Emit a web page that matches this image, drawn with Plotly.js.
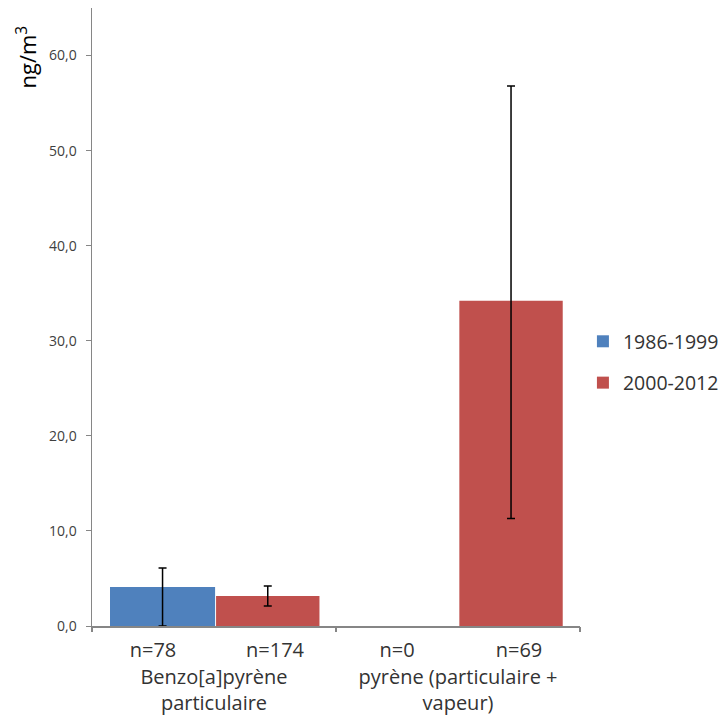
<!DOCTYPE html>
<html>
<head>
<meta charset="utf-8">
<script src="https://cdn.plot.ly/plotly-3.0.1.min.js"></script>
<style>html,body{margin:0;padding:0;background:#fff;}#chart{width:726px;height:720px;}</style>
</head>
<body>
<div id="chart"></div>
<script>
// Categories (two-level)
const groupLabels = ["Benzo[a]pyrène<br>particulaire", "Benzo[a]pyrène<br>particulaire", "pyrène (particulaire +<br>vapeur)", "pyrène (particulaire +<br>vapeur)"];
const countLabels = ["n=78", "n=174", "n=0", "n=69"];

// Series
const seriesNames = ["1986-1999", "2000-2012"];
const values1986 = [4.1, null, null, null];
const errPlus1986 = [2.0, null, null, null];
const errMinus1986 = [4.1, null, null, null];
const values2000 = [null, 3.15, null, 34.2];
const errPlus2000 = [null, 1.05, null, 22.6];
const errMinus2000 = [null, 1.05, null, 22.9];

// Y axis ticks
const yTickVals = [0, 10, 20, 30, 40, 50, 60];

const FONT = "Open Sans";
const x = [groupLabels, countLabels];

// derived positions of labels on the category index scale
const nCat = countLabels.length;
const catIdx = countLabels.map((_, i) => i);
const groupNames = [];
const groupMid = [];
const boundaries = [-0.5];
groupLabels.forEach((g, i) => {
  if (groupNames.length === 0 || groupNames[groupNames.length - 1] !== g) {
    if (i > 0) boundaries.push(i - 0.5);
    groupNames.push(g);
    groupMid.push([i, i]);
  } else {
    groupMid[groupMid.length - 1][1] = i;
  }
});
boundaries.push(nCat - 0.5);
const groupCenters = groupMid.map(p => (p[0] + p[1]) / 2);

const traces = [
  {
    type: "bar", name: seriesNames[0], x: x, y: values1986,
    marker: {color: "#4F81BD", line: {width: 0}},
    offset: -0.352, width: 0.864,
    legendgroup: "a",
    error_y: {type: "data", symmetric: false, array: errPlus1986, arrayminus: errMinus1986,
              color: "#000000", thickness: 1.5, width: 4}
  },
  {
    type: "bar", name: seriesNames[1], x: x, y: values2000,
    marker: {color: "#C0504D", line: {width: 0}},
    offset: -0.48, width: 0.85,
    legendgroup: "b",
    error_y: {type: "data", symmetric: false, array: errPlus2000, arrayminus: errMinus2000,
              color: "#000000", thickness: 1.5, width: 4}
  },
  { type: "scatter", x: [], y: [], xaxis: "x2", showlegend: false, hoverinfo: "skip" },
  { type: "scatter", x: [], y: [], xaxis: "x3", showlegend: false, hoverinfo: "skip" },
  { type: "scatter", x: [], y: [], xaxis: "x4", showlegend: false, hoverinfo: "skip" }
];

const overlayBase = {
  overlaying: "x", anchor: "y", side: "bottom",
  range: [-0.5, nCat - 0.5],
  showline: false, showgrid: false, zeroline: false
};

const layout = {
  width: 726, height: 720,
  margin: {l: 92, r: 146, t: 8, b: 94, autoexpand: false},
  paper_bgcolor: "#ffffff", plot_bgcolor: "#ffffff",
  separators: ", ",
  barmode: "overlay",
  showlegend: true,
  font: {family: FONT, color: "#333333"},
  xaxis: {
    type: "multicategory",
    showline: true, linecolor: "#868686", linewidth: 1.5,
    ticks: "", showticklabels: false,
    showdividers: false, showgrid: false
  },
  xaxis2: Object.assign({}, overlayBase, {
    tickvals: catIdx, ticktext: countLabels, ticks: "",
    ticklabelstandoff: 10,
    tickfont: {family: FONT, size: 20, color: "#333333"}
  }),
  xaxis3: Object.assign({}, overlayBase, {
    tickvals: groupCenters, ticktext: groupNames, ticks: "",
    ticklabelstandoff: 37,
    tickfont: {family: FONT, size: 20, color: "#333333"}
  }),
  xaxis4: Object.assign({}, overlayBase, {
    tickvals: boundaries, showticklabels: false,
    ticks: "outside", ticklen: 5, tickwidth: 1.5, tickcolor: "#868686"
  }),
  yaxis: {
    range: [0, 65], tickvals: yTickVals, tickformat: ".1f",
    showline: true, linecolor: "#868686", linewidth: 1.5,
    ticks: "outside", ticklen: 5, tickwidth: 1, tickcolor: "#868686",
    showgrid: false, zeroline: false, ticklabelstandoff: 6,
    tickfont: {family: FONT, size: 14, color: "#404040"}
  },
  legend: {
    x: 1.006, xanchor: "left", y: 0.427, yanchor: "middle",
    font: {family: FONT, size: 19.5, color: "#333333"},
    tracegroupgap: 13, bgcolor: "rgba(0,0,0,0)"
  },
  annotations: [{
    text: "ng/m<sup>3</sup>", xref: "paper", yref: "paper",
    x: -0.135, y: 0.92, xanchor: "center", yanchor: "middle",
    textangle: -90, showarrow: false,
    font: {family: FONT, size: 22, color: "#000000"}
  }]
};

Plotly.newPlot("chart", traces, layout, {displayModeBar: false, staticPlot: true});
</script>
</body>
</html>
